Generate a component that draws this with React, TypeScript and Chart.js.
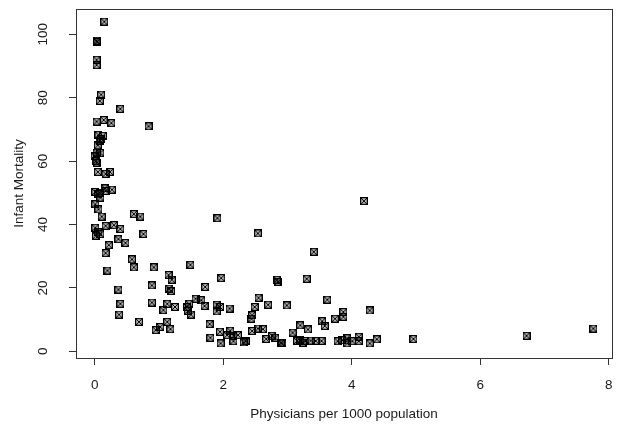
import React, { useEffect, useRef } from "react";
import { Chart, registerables } from "chart.js";

Chart.register(...registerables);

// Physicians per 1000 population (x) and infant mortality (y)
const physicians = [
  0.15, 0.03, 0.04, 0.03, 0.03, 0.1, 0.08, 0.4, 0.03, 0.14, 0.26, 0.84,
  0.06, 0.13, 0.1, 0.08, 0.05, 0.03, 0.09, 0.0, 0.02, 0.03,
  0.05, 0.17, 0.24, 0.16, 0.27, 0.01, 0.06, 0.09, 0.17, 0.08,
  0.01, 0.06, 0.11, 0.61, 0.71, 0.01, 0.17, 0.3, 0.4, 0.06, 0.09, 0.02, 0.76,
  0.37, 0.48, 0.22, 0.17, 0.58, 0.61, 0.92, 1.49, 0.2,
  1.15, 1.2, 0.89, 1.16, 1.19, 0.37, 0.4, 0.89, 1.13, 1.07, 1.25, 1.44, 1.45,
  0.38, 0.69, 1.13, 1.02, 0.95, 1.18,
  1.91, 2.54, 1.97, 2.84, 2.85, 1.72, 2.55, 1.57, 1.66, 1.47, 1.71, 1.5,
  1.9, 1.95, 1.9, 2.1, 2.49, 2.7, 2.99, 2.45, 2.44, 1.79, 2.45, 2.54, 2.62,
  1.95, 2.11, 2.06, 2.16, 2.23, 1.8, 2.16, 2.32, 2.35, 1.96, 2.67, 2.76, 2.81, 2.9,
  4.19, 3.41, 3.3, 3.62, 4.28, 3.87, 3.87, 3.74, 3.54, 3.58, 3.2, 3.32, 3.08, 2.92,
  3.15, 3.2, 3.28, 3.36, 3.44, 3.53, 3.24,
  3.78, 3.85, 3.93, 3.93, 4.01, 4.11, 4.11,
  4.28, 4.39, 4.96, 6.72, 7.76,
];
const infantMortality = [
  104, 98, 97.6, 92, 90.3, 81, 79, 76.5, 72.5, 73, 72, 71,
  68.3, 68, 67, 66.5, 65, 62.7, 62.6, 61.5, 60, 59.5,
  56.6, 56, 56.6, 51.4, 51, 50.3, 49.5, 48.5, 50.6, 50,
  46.4, 44.8, 42.5, 43.3, 42.5, 39, 39.6, 39.8, 38.6, 37.5, 37, 36.5, 37,
  35.4, 34.2, 33.5, 31, 29, 26.5, 26.5, 27.3, 25.5,
  24.1, 22.6, 20.8, 19.8, 19, 19.5, 15, 15.4, 15, 13, 14, 14, 12.8,
  11.6, 9.3, 9.3, 7.7, 6.7, 7,
  42, 37.2, 23.1, 22.6, 21.9, 20.3, 16.9, 16.6, 16.1, 15, 14.3, 11.6,
  14.7, 14, 12.6, 13.5, 14, 14.7, 14.5, 11.4, 10.3, 8.6, 6.4, 7.2, 7,
  6.2, 6.5, 5.1, 4.9, 5.1, 4.3, 3.2, 2.8, 3.2, 2.5, 3.9, 4.9, 4.3, 2.7,
  47.4, 31.4, 22.9, 16.3, 12.9, 12.4, 10.9, 10.3, 9.5, 8, 8.2, 6.9, 5.9, 2.5,
  3.3, 3.6, 3.3, 3.4, 3.3, 3.3, 2.7,
  3.2, 3.5, 4.1, 2.5, 3.2, 4.6, 3.2,
  2.5, 3.8, 3.9, 4.9, 7.2,
];

const xTicks = [0, 2, 4, 6, 8];
const yTicks = [0, 20, 40, 60, 80, 100];
const xTitle = "Physicians per 1000 population";
const yTitle = "Infant Mortality";

const FONT = '13.5px "Liberation Sans", Arial, sans-serif';
const TEXT_COLOR = "#1a1a1a";
const AXIS_COLOR = "#333";

function makeMarker(): HTMLCanvasElement {
  const c = document.createElement("canvas");
  c.width = 8;
  c.height = 8;
  const g = c.getContext("2d")!;
  g.fillStyle = "rgba(0,0,0,0.25)";
  g.fillRect(0, 0, 8, 8);
  g.strokeStyle = "#000";
  g.lineWidth = 1.3;
  g.strokeRect(0.6, 0.6, 6.8, 6.8);
  g.lineWidth = 1;
  g.beginPath();
  g.moveTo(1, 1);
  g.lineTo(7, 7);
  g.moveTo(7, 1);
  g.lineTo(1, 7);
  g.stroke();
  return c;
}

const rPlotPlugin = {
  id: "rPlot",
  afterDraw(chart: any) {
    const { ctx, chartArea, scales } = chart;
    const xs = scales.x;
    const ys = scales.y;
    ctx.save();
    // box
    ctx.strokeStyle = AXIS_COLOR;
    ctx.lineWidth = 1;
    ctx.strokeRect(
      Math.round(chartArea.left) + 0.5,
      Math.round(chartArea.top) + 0.5,
      Math.round(chartArea.right - chartArea.left),
      Math.round(chartArea.bottom - chartArea.top)
    );
    ctx.fillStyle = TEXT_COLOR;
    ctx.font = FONT;
    // x tick labels
    ctx.textAlign = "center";
    ctx.textBaseline = "middle";
    xTicks.forEach((v) => {
      ctx.fillText(String(v), xs.getPixelForValue(v), chartArea.bottom + 27);
    });
    // y tick labels (rotated)
    yTicks.forEach((v) => {
      ctx.save();
      ctx.translate(chartArea.left - 33, ys.getPixelForValue(v));
      ctx.rotate(-Math.PI / 2);
      ctx.fillText(String(v), 0, 0);
      ctx.restore();
    });
    // titles
    ctx.fillText(xTitle, (chartArea.left + chartArea.right) / 2, chartArea.bottom + 56);
    ctx.save();
    ctx.translate(chartArea.left - 57, (chartArea.top + chartArea.bottom) / 2);
    ctx.rotate(-Math.PI / 2);
    ctx.fillText(yTitle, 0, 0);
    ctx.restore();
    ctx.restore();
  },
};

export default function App() {
  const ref = useRef<HTMLCanvasElement>(null);
  useEffect(() => {
    if (!ref.current) return;
    const marker = makeMarker();
    const points = physicians.map((x, i) => ({ x, y: infantMortality[i] }));
    const chart = new Chart(ref.current, {
      type: "scatter",
      data: {
        datasets: [
          {
            data: points,
            pointStyle: marker as any,
            pointRadius: 4,
            pointHoverRadius: 4,
            backgroundColor: "rgba(0,0,0,0)",
            borderColor: "#111",
          },
        ],
      },
      options: {
        animation: false,
        responsive: false,
        events: [],
        layout: { padding: { top: 9, right: 5, left: 0, bottom: 0 } },
        plugins: { legend: { display: false }, tooltip: { enabled: false } },
        scales: {
          x: {
            type: "linear",
            min: -0.29,
            max: 8.05,
            afterBuildTicks: (s: any) => {
              s.ticks = xTicks.map((v) => ({ value: v }));
            },
            afterFit: (s: any) => {
              s.height = 71;
            },
            ticks: { display: false },
            border: { display: false },
            grid: {
              drawOnChartArea: false,
              drawTicks: true,
              tickLength: 7,
              color: AXIS_COLOR,
              lineWidth: 1,
            },
          },
          y: {
            type: "linear",
            min: -2.1,
            max: 108,
            afterBuildTicks: (s: any) => {
              s.ticks = yTicks.map((v) => ({ value: v }));
            },
            afterFit: (s: any) => {
              s.width = 76;
            },
            ticks: { display: false },
            border: { display: false },
            grid: {
              drawOnChartArea: false,
              drawTicks: true,
              tickLength: 7,
              color: AXIS_COLOR,
              lineWidth: 1,
            },
          },
        },
      },
      plugins: [rPlotPlugin],
    });
    return () => chart.destroy();
  }, []);
  return (
    <div style={{ position: "absolute", left: 0, top: 0, width: 617, height: 429, background: "#fff" }}>
      <canvas ref={ref} width={617} height={429} style={{ display: "block", width: 617, height: 429 }} />
    </div>
  );
}
